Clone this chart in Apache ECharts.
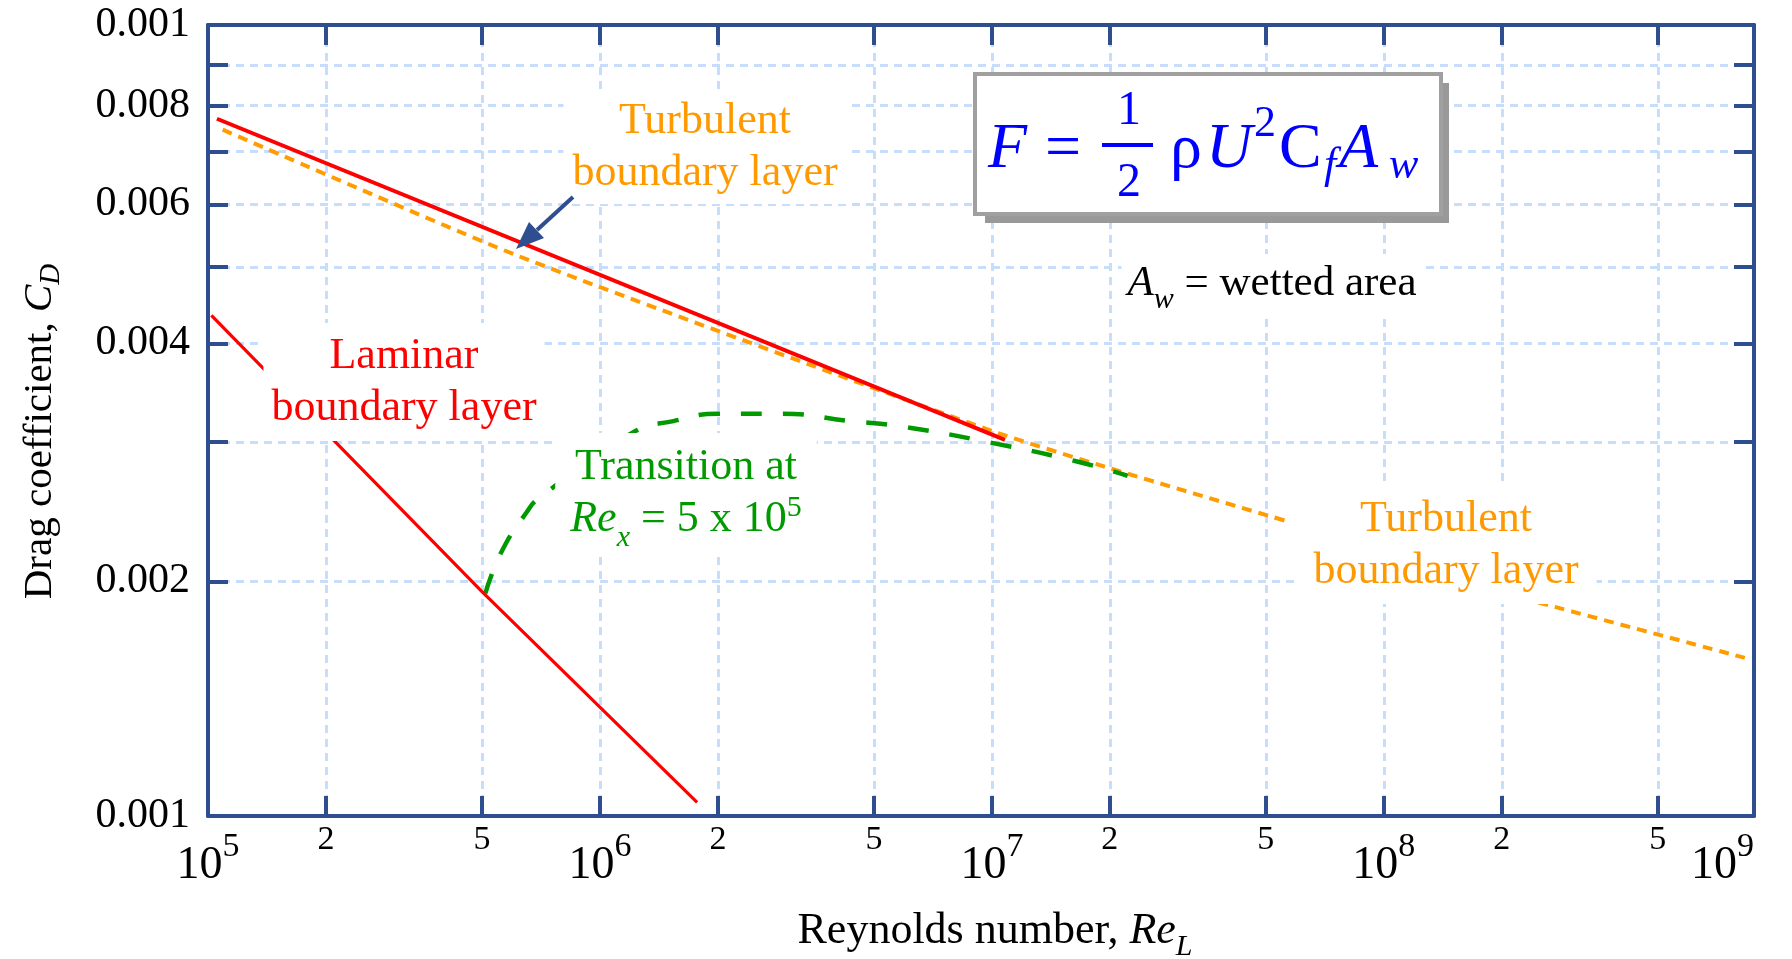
<!DOCTYPE html>
<html>
<head>
<meta charset="utf-8">
<script src="https://cdn.jsdelivr.net/npm/echarts@6/dist/echarts.min.js"></script>
<style>html,body{margin:0;padding:0;background:#fff}#c{width:1792px;height:959px}</style>
</head>
<body>
<div id="c"></div>
<script>
// ---------- data ----------
const reTurb = [1.054e5, 1.08e7];               // red: turbulent Cd (solid)
const cdTurb = [0.0077, 0.00302];
const reLam = [1.02e5, 5.0e5, 1.77e6];          // red: laminar Cd
const cdLam = [0.00434, 0.00194, 0.00105];
const reSchl = [1.09e5, 6.2e5, 1.0e7, 2.0e7, 5.7e7, null, 2.48e8, 8.34e8];   // orange dotted
const cdSchl = [0.00746, 0.00516, 0.0031, 0.00278, 0.00238, null, 0.00188, 0.0016];
const reTrans = [5.1e5, 5.61e5, 6.48e5, 7.0e5, 1.22e6, 1.54e6, 2.0e6, 2.91e6, 4.35e6, 5.89e6, 9.8e6, 1.63e7, 2.22e7]; // green dashed
const cdTrans = [0.00193, 0.00218, 0.00244, 0.00255, 0.00309, 0.00319, 0.00326, 0.00326, 0.00319, 0.00314, 0.0030, 0.00284, 0.00272];

// ---------- axes, ticks and labels ----------
const xMin = 1e5, xMax = 8.8e8;                 // frame edges as drawn in the picture
const yMin = 0.001009, yMax = 0.01012;
const xGridVals = [2e5, 5e5, 1e6, 2e6, 5e6, 1e7, 2e7, 5e7, 1e8, 2e8, 5e8];
const xLabelVals = [1e5, 2e5, 5e5, 1e6, 2e6, 5e6, 1e7, 2e7, 5e7, 1e8, 2e8, 5e8, 8.8e8];
const xLabelText = ['10^5', '2', '5', '10^6', '2', '5', '10^7', '2', '5', '10^8', '2', '5', '10^9'];
const yGridVals = [0.002, 0.003, 0.004, 0.005, 0.006, 0.007, 0.008, 0.009];
const yLabelVals = [0.01012, 0.008, 0.006, 0.004, 0.002, 0.001009];
const yLabelText = ['0.001', '0.008', '0.006', '0.004', '0.002', '0.001'];

const FONT = "'Liberation Serif','Times New Roman',Times,serif";
const AX = '#2e4e8f';
const GRID = '#c7ddfc';
const BLUE = '#0000ff';
const L10 = v => Math.log10(v);
const pick = (vals, texts, v) => {
  for (let i = 0; i < vals.length; i++) if (Math.abs(L10(vals[i]) - v) < 1e-6) return texts[i];
  return '';
};
const zip = (a, b) => a.map((v, i) => [v, b[i]]);
function segments(xs, ys) {
  const out = [[]];
  xs.forEach((x, i) => {
    if (x === null || ys[i] === null) out.push([]);
    else out[out.length - 1].push([x, ys[i]]);
  });
  return out.filter(s => s.length);
}

const chart = echarts.init(document.getElementById('c'), null, {renderer: 'canvas', width: 1792, height: 959});

const tickStyle = {color: AX, width: 4};
const gridStyle = {color: GRID, width: 3, type: [8, 6]};
const schlSeries = segments(reSchl, cdSchl).map(seg => ({
  name: 'Turbulent (dotted)', type: 'line', xAxisIndex: 0, yAxisIndex: 0, data: seg,
  symbol: 'none', smooth: 0.2, z: 2, silent: true,
  lineStyle: {color: '#ff9c00', width: 4, type: [10, 7]}
}));

function ftext(x, y, txt, size, italic, align) {
  return {
    type: 'text', x: x, y: y, z: 52, silent: true,
    style: {text: txt, fill: BLUE, fontFamily: FONT, fontSize: size, fontStyle: italic ? 'italic' : 'normal',
      align: align || 'left', verticalAlign: 'middle'}
  };
}

const option = {
  animation: false,
  backgroundColor: '#ffffff',
  grid: {left: 208, right: 38, top: 25, bottom: 143, containLabel: false, outerBoundsMode: 'none'},
  xAxis: [
    {
      type: 'log', logBase: 10, min: xMin, max: xMax, position: 'bottom',
      axisLine: {show: true, onZero: false, lineStyle: {color: AX, width: 4}},
      axisTick: {show: false}, axisLabel: {show: false}, splitLine: {show: false},
      name: '{n|Reynolds number, }{i|Re}{sb|L}', nameLocation: 'middle', nameGap: 87,
      nameTextStyle: {
        padding: [0, 0, 0, 28],
        rich: {
          n: {fontFamily: FONT, fontSize: 44, lineHeight: 56, color: '#000'},
          i: {fontFamily: FONT, fontSize: 44, lineHeight: 56, fontStyle: 'italic', color: '#000'},
          sb: {fontFamily: FONT, fontSize: 30, lineHeight: 10, padding: [29, 0, 0, 0], fontStyle: 'italic', verticalAlign: 'top', color: '#000'}
        }
      }
    },
    {
      type: 'value', min: L10(xMin), max: L10(xMax), position: 'bottom',
      axisLine: {show: false, onZero: false},
      axisTick: {show: true, inside: true, length: 20, lineStyle: tickStyle, customValues: xGridVals.map(L10)},
      axisLabel: {
        show: true, margin: 7, color: '#000', alignMaxLabel: 'right',
        customValues: xLabelVals.map(L10),
        formatter: v => {
          const t = pick(xLabelVals, xLabelText, v);
          if (t.indexOf('^') >= 0) return '{d|10}{s|' + t.split('^')[1] + '}';
          return '{m|' + t + '}';
        },
        rich: {
          m: {fontFamily: FONT, fontSize: 34, lineHeight: 34, color: '#000'},
          d: {fontFamily: FONT, fontSize: 46, lineHeight: 86, color: '#000'},
          s: {fontFamily: FONT, fontSize: 34, lineHeight: 40, padding: [7, 0, 0, 0], verticalAlign: 'top', color: '#000'}
        }
      },
      splitLine: {show: true, lineStyle: gridStyle}
    },
    {
      type: 'value', min: L10(xMin), max: L10(xMax), position: 'top',
      axisLine: {show: true, onZero: false, lineStyle: {color: AX, width: 4}},
      axisTick: {show: true, inside: true, length: 20, lineStyle: tickStyle, customValues: xGridVals.map(L10)},
      axisLabel: {show: false}, splitLine: {show: false}
    }
  ],
  yAxis: [
    {
      type: 'log', logBase: 10, min: yMin, max: yMax, position: 'left',
      axisLine: {show: true, onZero: false, lineStyle: {color: AX, width: 4}},
      axisTick: {show: false}, axisLabel: {show: false}, splitLine: {show: false},
      name: '{n|Drag coefficient, }{i|C}{sb|D}', nameLocation: 'middle', nameRotate: 90, nameGap: 142,
      nameTextStyle: {
        padding: [0, 22, 0, 0],
        rich: {
          n: {fontFamily: FONT, fontSize: 41, lineHeight: 52, color: '#000'},
          i: {fontFamily: FONT, fontSize: 41, lineHeight: 52, fontStyle: 'italic', color: '#000'},
          sb: {fontFamily: FONT, fontSize: 29, lineHeight: 26, fontStyle: 'italic', verticalAlign: 'bottom', color: '#000'}
        }
      }
    },
    {
      type: 'value', min: L10(yMin), max: L10(yMax), position: 'left',
      axisLine: {show: false, onZero: false},
      axisTick: {show: true, inside: true, length: 20, lineStyle: tickStyle, customValues: yGridVals.map(L10)},
      axisLabel: {
        show: true, margin: 18, color: '#000', fontFamily: FONT, fontSize: 42,
        customValues: yLabelVals.map(L10),
        formatter: v => pick(yLabelVals, yLabelText, v)
      },
      splitLine: {show: true, lineStyle: gridStyle}
    },
    {
      type: 'value', min: L10(yMin), max: L10(yMax), position: 'right',
      axisLine: {show: true, onZero: false, lineStyle: {color: AX, width: 4}},
      axisTick: {show: true, inside: true, length: 20, lineStyle: tickStyle, customValues: yGridVals.map(L10)},
      axisLabel: {show: false}, splitLine: {show: false}
    }
  ],
  series: [
    ...schlSeries,
    {
      name: 'Transition', type: 'line', xAxisIndex: 0, yAxisIndex: 0, data: zip(reTrans, cdTrans),
      symbol: 'none', smooth: 0.5, z: 3, silent: true,
      lineStyle: {color: '#009a00', width: 4.5, type: [21, 21]}
    },
    {
      name: 'Turbulent', type: 'line', xAxisIndex: 0, yAxisIndex: 0, data: zip(reTurb, cdTurb),
      symbol: 'none', z: 4, silent: true,
      lineStyle: {color: '#ff0000', width: 4}
    },
    {
      name: 'Laminar', type: 'line', xAxisIndex: 0, yAxisIndex: 0, data: zip(reLam, cdLam),
      symbol: 'none', z: 4, silent: true,
      lineStyle: {color: '#ff0000', width: 3.2}
    }
  ],
  graphic: {
    elements: [
      // label boxes (white background hides grid and curves behind them)
      {type: 'text', x: 705, y: 147, z: 50, silent: true,
        style: {text: 'Turbulent\nboundary layer', fill: '#ff9900', fontFamily: FONT, fontSize: 44, lineHeight: 52,
          align: 'center', verticalAlign: 'middle', backgroundColor: '#ffffff', padding: [8, 9, 2, 9]}},
      {type: 'text', x: 404, y: 382, z: 50, silent: true,
        style: {text: 'Laminar\nboundary layer', fill: '#ff0000', fontFamily: FONT, fontSize: 44, lineHeight: 52,
          align: 'center', verticalAlign: 'middle', backgroundColor: '#ffffff', padding: [7, 8]}},
      {type: 'text', x: 686, y: 493, z: 50, silent: true,
        style: {text: 'Transition at\n{i|Re}{sb|x}{n| = 5 x 10}{sp|5}', fill: '#009a00', fontFamily: FONT, fontSize: 44, lineHeight: 52,
          align: 'center', verticalAlign: 'middle', backgroundColor: '#ffffff', padding: [8, 15],
          rich: {
            i: {fill: '#009a00', fontFamily: FONT, fontSize: 44, lineHeight: 52, fontStyle: 'italic'},
            n: {fill: '#009a00', fontFamily: FONT, fontSize: 44, lineHeight: 52},
            sb: {fill: '#009a00', fontFamily: FONT, fontSize: 30, lineHeight: 12, padding: [30, 0, 0, 0], fontStyle: 'italic', verticalAlign: 'top'},
            sp: {fill: '#009a00', fontFamily: FONT, fontSize: 30, lineHeight: 30, verticalAlign: 'top'}
          }}},
      {type: 'text', x: 1446, y: 545, z: 50, silent: true,
        style: {text: 'Turbulent\nboundary layer', fill: '#ff9900', fontFamily: FONT, fontSize: 44, lineHeight: 52,
          align: 'center', verticalAlign: 'middle', backgroundColor: '#ffffff', padding: [7, 18]}},
      {type: 'text', x: 1272, y: 284, z: 50, silent: true,
        style: {text: '{i|A}{sb|w}{n| = wetted area}', fill: '#000', fontFamily: FONT, fontSize: 43, lineHeight: 52,
          align: 'center', verticalAlign: 'middle', backgroundColor: '#ffffff', padding: [4, 6],
          rich: {
            i: {fill: '#000', fontFamily: FONT, fontSize: 43, lineHeight: 52, fontStyle: 'italic'},
            n: {fill: '#000', fontFamily: FONT, fontSize: 43, lineHeight: 52},
            sb: {fill: '#000', fontFamily: FONT, fontSize: 30, lineHeight: 4, padding: [27, 0, 0, 0], fontStyle: 'italic', verticalAlign: 'top'}
          }}},
      // formula box
      {type: 'rect', z: 50, silent: true, shape: {x: 985, y: 83, width: 464, height: 140}, style: {fill: '#999999'}},
      {type: 'rect', z: 51, silent: true, shape: {x: 975, y: 74, width: 466, height: 140}, style: {fill: '#ffffff', stroke: '#a0a0a0', lineWidth: 4}},
      ftext(988, 150, 'F', 64, true),
      ftext(1045, 150, '=', 64, false),
      ftext(1129, 111, '1', 48, false, 'center'),
      {type: 'rect', z: 52, silent: true, shape: {x: 1102, y: 143, width: 51, height: 4}, style: {fill: BLUE}},
      ftext(1129, 183, '2', 48, false, 'center'),
      ftext(1170, 150, 'ρ', 64, false),
      ftext(1206, 150, 'U', 64, true),
      ftext(1254, 124, '2', 44, false),
      ftext(1279, 150, 'C', 64, false),
      ftext(1324, 166, 'f', 44, true),
      ftext(1339, 150, 'A', 64, true),
      ftext(1389, 166, 'w', 44, true),
      // arrow
      {type: 'line', z: 60, silent: true, shape: {x1: 573, y1: 197, x2: 537, y2: 230}, style: {stroke: AX, lineWidth: 4}},
      {type: 'polygon', z: 60, silent: true, shape: {points: [[516, 249], [544, 238], [529, 222]]}, style: {fill: AX}}
    ]
  }
};
chart.setOption(option);
</script>
</body>
</html>
